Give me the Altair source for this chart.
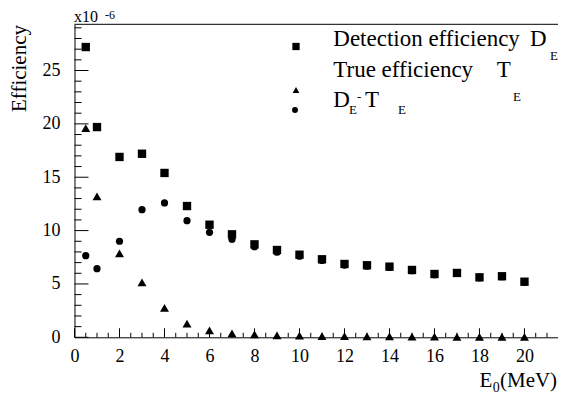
import altair as alt
import pandas as pd
import numpy as np

# ---------------- data (values in units of 1e-6) ----------------
energy = [0.5, 1, 2, 3, 4, 5, 6, 7, 8, 9, 10, 11, 12, 13, 14, 15, 16, 17, 18, 19, 20]
detection_eff = [27.2, 19.7, 16.9, 17.2, 15.4, 12.3, 10.55, 9.65, 8.71, 8.18, 7.74,
                 7.31, 6.87, 6.75, 6.62, 6.31, 5.93, 6.03, 5.62, 5.72, 5.21]
true_eff = [19.6, 13.2, 7.87, 5.15, 2.75, 1.28, 0.65, 0.37, 0.28, 0.19, 0.15,
            0.12, 0.10, 0.09, 0.08, 0.07, 0.06, 0.05, 0.05, 0.04, 0.04]
diff_eff = [7.65, 6.43, 9.0, 11.96, 12.59, 10.93, 9.84, 9.18, 8.49, 7.97, 7.6,
            7.2, 6.77, 6.66, 6.54, 6.24, 5.87, 5.98, 5.57, 5.68, 5.17]

x_labels = [0, 2, 4, 6, 8, 10, 12, 14, 16, 18, 20]
y_labels = [0, 5, 10, 15, 20, 25]

# ---------------- layout ----------------
W, H = 483.5, 313
XMAX, YMAX = 21.49, 29.33
FONT = "Liberation Serif"

x_major = [float(v) for v in np.arange(0, 22.01, 2)]
x_minor = [float(v) for v in np.arange(0, XMAX, 0.5) if v % 2 != 0]
y_major = [float(v) for v in np.arange(0, YMAX, 5)]
y_minor = [float(v) for v in np.arange(0, YMAX, 1) if v % 5 != 0]

xs = alt.Scale(domain=[0, XMAX], nice=False, zero=False)
ys = alt.Scale(domain=[0, YMAX], nice=False, zero=False)

x_axis = alt.Axis(values=x_labels, ticks=False, grid=False, title=None,
                  labelFont=FONT, labelFontSize=18, labelColor="black",
                  labelPadding=10, labelFlush=False, labelOverlap=False,
                  domainColor="black", domainWidth=1)
y_axis = alt.Axis(values=y_labels, ticks=False, grid=False, title=None,
                  labelFont=FONT, labelFontSize=18, labelColor="black",
                  labelPadding=14.5, labelFlush=False, labelOverlap=False,
                  domainColor="black", domainWidth=1)

df_d = pd.DataFrame({"E": energy, "v": detection_eff})
df_t = pd.DataFrame({"E": energy, "v": true_eff})
df_c = pd.DataFrame({"E": energy, "v": diff_eff})

squares = alt.Chart(df_d).mark_point(shape="square", filled=True, size=70,
                                      color="black", opacity=1).encode(
    x=alt.X("E:Q", scale=xs, axis=x_axis),
    y=alt.Y("v:Q", scale=ys, axis=y_axis),
)
triangles = alt.Chart(df_t).mark_point(shape="triangle-up", filled=True, size=80,
                                        color="black", opacity=1).encode(
    x=alt.X("E:Q", scale=xs), y=alt.Y("v:Q", scale=ys))
circles = alt.Chart(df_c).mark_point(shape="circle", filled=True, size=52,
                                      color="black", opacity=1).encode(
    x=alt.X("E:Q", scale=xs), y=alt.Y("v:Q", scale=ys))

# inward ticks
def xticks(vals, length):
    d = pd.DataFrame({"t": [v for v in vals if v <= XMAX]})
    return alt.Chart(d).mark_rule(color="black", strokeWidth=1).encode(
        x=alt.X("t:Q", scale=xs), y=alt.value(H), y2=alt.value(H - length))

def yticks(vals, length):
    d = pd.DataFrame({"t": vals})
    return alt.Chart(d).mark_rule(color="black", strokeWidth=1).encode(
        y=alt.Y("t:Q", scale=ys), x=alt.value(0), x2=alt.value(length))

top_line = alt.Chart(pd.DataFrame({"a": [0]})).mark_rule(color="black", strokeWidth=1).encode(
    x=alt.value(0), x2=alt.value(W), y=alt.value(0))

def txt(s, x, y, size, **kw):
    return alt.Chart(pd.DataFrame({"s": [s]})).mark_text(
        font=FONT, fontSize=size, color="black", align=kw.pop("align", "left"),
        baseline=kw.pop("baseline", "alphabetic"), **kw).encode(
        text="s:N", x=alt.value(x), y=alt.value(y))

def marker(shape, x, y, size):
    return alt.Chart(pd.DataFrame({"a": [0]})).mark_point(
        shape=shape, filled=True, size=size, color="black", opacity=1).encode(
        x=alt.value(x), y=alt.value(y))

annot = [
    # y title
    txt("Efficiency", -48.5, 0.7, 21, angle=270, align="right"),
    # exponent
    txt("x10", -0.5, -2.0, 16),
    txt("-6", 30.5, -5.4, 12),
    # x title
    txt("E", 405, 362.4, 21),
    txt("0", 418.3, 367.8, 14),
    txt("(MeV)", 425.5, 362.4, 21),
    # legend
    marker("square", 221.5, 22.2, 53),
    marker("triangle-up", 221.5, 65.7, 45),
    marker("circle", 220.5, 85.7, 35),
    txt("Detection efficiency", 258.8, 22.2, 23),
    txt("D", 455.5, 22.2, 23),
    txt("E", 475.5, 35.7, 13),
    txt("True efficiency", 258.8, 53.2, 23),
    txt("T", 422.2, 53.2, 23),
    txt("E", 438.5, 76.7, 13),
    txt("D", 258.8, 83.2, 23),
    txt("E", 274.5, 89.5, 13),
    txt("-", 282.5, 75.7, 13),
    txt("T", 290.5, 83.2, 23),
    txt("E", 323.5, 89.5, 13),
]

chart = alt.layer(
    squares, triangles, circles,
    xticks(x_major, 9), xticks(x_minor, 4.5),
    yticks(y_major, 14), yticks(y_minor, 7),
    top_line,
    *annot,
).properties(
    width=W, height=H,
    padding={"left": 66.5, "top": 16.3, "right": 0, "bottom": 59},
    autosize=alt.AutoSizeParams(type="none"),
    background="white",
).configure(font=FONT).configure_view(stroke=None)

chart.save("out.html", embed_options={"renderer": "svg", "actions": False})
